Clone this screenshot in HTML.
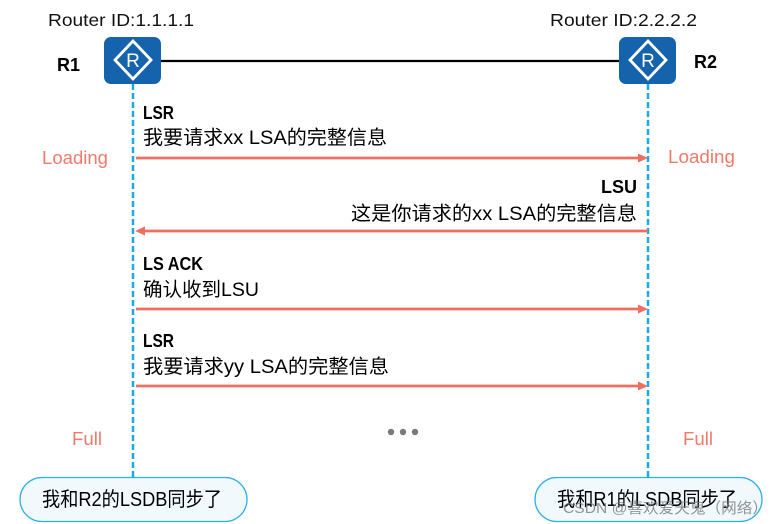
<!DOCTYPE html>
<html>
<head>
<meta charset="utf-8">
<style>
html,body{margin:0;padding:0;background:#fff;}
svg{display:block;}
text{font-family:"Liberation Sans","Noto Sans CJK SC",sans-serif;}
</style>
</head>
<body>
<svg width="783" height="524" viewBox="0 0 783 524" xmlns="http://www.w3.org/2000/svg">
  <rect width="783" height="524" fill="#ffffff"/>

  <!-- Router IDs -->
  <text x="48" y="26" font-size="17.5" fill="#111" textLength="146" lengthAdjust="spacingAndGlyphs">Router ID:1.1.1.1</text>
  <text x="550" y="26" font-size="17.5" fill="#111" textLength="147" lengthAdjust="spacingAndGlyphs">Router ID:2.2.2.2</text>

  <!-- link line -->
  <line x1="160" y1="61" x2="620" y2="61" stroke="#000" stroke-width="2.2"/>

  <!-- R labels -->
  <text x="57" y="71" font-size="18" font-weight="bold" fill="#000">R1</text>
  <text x="694" y="68" font-size="18" font-weight="bold" fill="#000">R2</text>

  <!-- dashed lifelines -->
  <line x1="133" y1="84" x2="133" y2="477" stroke="#19a9e6" stroke-width="2.5" stroke-dasharray="6,3"/>
  <line x1="648" y1="84" x2="648" y2="477" stroke="#19a9e6" stroke-width="2.5" stroke-dasharray="6,3"/>

  <!-- Router icons -->
  <g>
    <rect x="104" y="37" width="57" height="47" rx="7" fill="#1663ad"/>
    <polygon points="133,41 151,60 133,79 115,60" fill="none" stroke="#fff" stroke-width="2.8"/>
    <text x="133" y="67" font-size="19" fill="#fff" text-anchor="middle">R</text>
  </g>
  <g>
    <rect x="619" y="37" width="57" height="47" rx="7" fill="#1663ad"/>
    <polygon points="648,41 666,60 648,79 630,60" fill="none" stroke="#fff" stroke-width="2.8"/>
    <text x="648" y="67" font-size="19" fill="#fff" text-anchor="middle">R</text>
  </g>

  <!-- Loading / Full -->
  <text x="42" y="164" font-size="18.5" fill="#f07a6a" textLength="66" lengthAdjust="spacingAndGlyphs">Loading</text>
  <text x="668" y="163" font-size="18.5" fill="#f07a6a" textLength="67" lengthAdjust="spacingAndGlyphs">Loading</text>
  <text x="72" y="445" font-size="18.5" fill="#f07a6a" textLength="30" lengthAdjust="spacingAndGlyphs">Full</text>
  <text x="683" y="445" font-size="18.5" fill="#f07a6a" textLength="30" lengthAdjust="spacingAndGlyphs">Full</text>

  <!-- Message 1 -->
  <text x="143" y="119" font-size="18" font-weight="bold" fill="#000" textLength="31" lengthAdjust="spacingAndGlyphs">LSR</text>
  <text x="143" y="144" font-size="19.5" fill="#000" textLength="244" lengthAdjust="spacingAndGlyphs">我要请求xx LSA的完整信息</text>
  <line x1="136" y1="158" x2="640" y2="158" stroke="#ee6f60" stroke-width="2.8"/>
  <polygon points="648,158 638,153.5 638,162.5" fill="#ee6f60"/>

  <!-- Message 2 -->
  <text x="637" y="193" font-size="18" font-weight="bold" fill="#000" text-anchor="end">LSU</text>
  <text x="351" y="220" font-size="19.5" fill="#000" textLength="286" lengthAdjust="spacingAndGlyphs">这是你请求的xx LSA的完整信息</text>
  <line x1="143" y1="231" x2="648" y2="231" stroke="#ee6f60" stroke-width="2.8"/>
  <polygon points="135,231 145,226.5 145,235.5" fill="#ee6f60"/>

  <!-- Message 3 -->
  <text x="143" y="270" font-size="18" font-weight="bold" fill="#000" textLength="60" lengthAdjust="spacingAndGlyphs">LS ACK</text>
  <text x="143" y="296" font-size="19.5" fill="#000" textLength="116" lengthAdjust="spacingAndGlyphs">确认收到LSU</text>
  <line x1="136" y1="309" x2="640" y2="309" stroke="#ee6f60" stroke-width="2.8"/>
  <polygon points="648,309 638,304.5 638,313.5" fill="#ee6f60"/>

  <!-- Message 4 -->
  <text x="143" y="347" font-size="18" font-weight="bold" fill="#000" textLength="31" lengthAdjust="spacingAndGlyphs">LSR</text>
  <text x="143" y="373" font-size="19.5" fill="#000" textLength="246" lengthAdjust="spacingAndGlyphs">我要请求yy LSA的完整信息</text>
  <line x1="136" y1="386" x2="640" y2="386" stroke="#ee6f60" stroke-width="2.8"/>
  <polygon points="648,386 638,381.5 638,390.5" fill="#ee6f60"/>

  <!-- dots -->
  <circle cx="391" cy="432" r="3.2" fill="#7a7a7a"/>
  <circle cx="403" cy="432" r="3.2" fill="#7a7a7a"/>
  <circle cx="415" cy="432" r="3.2" fill="#7a7a7a"/>

  <!-- pills -->
  <rect x="20" y="477.5" width="227" height="44" rx="22" fill="#f1f9fd" stroke="#2bb0e6" stroke-width="1.3"/>
  <text x="42" y="506" font-size="20" fill="#000" textLength="180" lengthAdjust="spacingAndGlyphs">我和R2的LSDB同步了</text>

  <rect x="535" y="477.5" width="227" height="44" rx="22" fill="#f1f9fd" stroke="#2bb0e6" stroke-width="1.3"/>
  <text x="557" y="506" font-size="20" fill="#000" textLength="180" lengthAdjust="spacingAndGlyphs">我和R1的LSDB同步了</text>

  <!-- watermark -->
  <text x="563" y="513" font-size="15" fill="#7a7a7a" fill-opacity="0.8" textLength="205" lengthAdjust="spacingAndGlyphs">CSDN @喜欢爱天鬼（网络）</text>
</svg>
</body>
</html>
